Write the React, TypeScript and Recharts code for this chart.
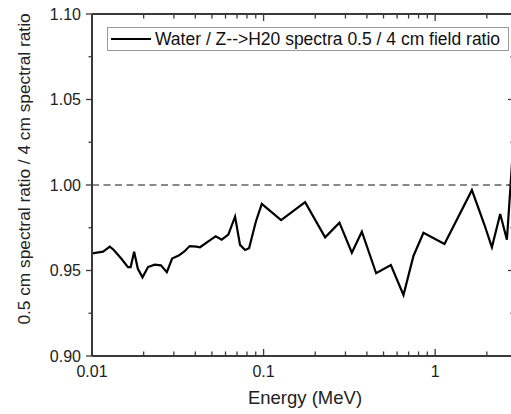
import { Line, LineChart, ReferenceLine, XAxis, YAxis } from "recharts";

// energy (MeV) and 0.5 cm / 4 cm spectral ratio
const energy = [
  0.01, 0.0116, 0.0127, 0.0134, 0.0148, 0.0162, 0.0168, 0.0176, 0.0185, 0.0197,
  0.0212, 0.0232, 0.0252, 0.0273, 0.0293, 0.032, 0.0344, 0.0371, 0.0406, 0.0426,
  0.0488, 0.0526, 0.057, 0.0623, 0.0682, 0.0729, 0.078, 0.0823, 0.0901, 0.0976,
  0.1265, 0.1746, 0.2284, 0.2767, 0.3269, 0.3738, 0.4529, 0.5517, 0.6535, 0.7472,
  0.8545, 1.133, 1.637, 1.939, 2.141, 2.393, 2.619, 2.88,
];
const ratio = [
  0.96, 0.961, 0.964, 0.962, 0.957, 0.952, 0.952, 0.961, 0.951, 0.946,
  0.952, 0.9534, 0.953, 0.949, 0.957, 0.9587, 0.961, 0.9643, 0.964, 0.9636,
  0.9678, 0.97, 0.968, 0.971, 0.9815, 0.965, 0.962, 0.963, 0.9785, 0.989,
  0.9795, 0.99, 0.9694, 0.978, 0.9604, 0.9727, 0.9484, 0.9532, 0.9357, 0.9585,
  0.9721, 0.9655, 0.997, 0.9766, 0.9636, 0.983, 0.968, 1.03,
];

const xTicks = [
  0.01, 0.02, 0.03, 0.04, 0.05, 0.06, 0.07, 0.08, 0.09,
  0.1, 0.2, 0.3, 0.4, 0.5, 0.6, 0.7, 0.8, 0.9, 1, 2,
];
const xMajor = [0.01, 0.1, 1];
const xLabels = ["0.01", "0.1", "1"];
const yTicks = [0.9, 0.925, 0.95, 0.975, 1.0, 1.025, 1.05, 1.075, 1.1];
const yMajor = [0.9, 0.95, 1.0, 1.05, 1.1];
const yLabels = ["0.90", "0.95", "1.00", "1.05", "1.10"];

const data = energy.map((e, i) => ({ e, r: ratio[i] }));

const AXIS = "#3a3a3a";
const FONT = "'Liberation Sans', Arial, sans-serif";

const majorIndex = (list: number[], v: number) => list.findIndex((m) => Math.abs(m - v) < 1e-9);

function BottomTick(props: any) {
  const { x, y, payload } = props;
  const idx = majorIndex(xMajor, payload.value);
  return (
    <g>
      <line x1={x} x2={x} y1={y} y2={y - (idx >= 0 ? 7 : 4.5)} stroke={AXIS} strokeWidth={1.3} />
      {idx >= 0 && (
        <text x={x} y={y + 21} textAnchor="middle" fontSize={16} fill="#222" fontFamily={FONT}>
          {xLabels[idx]}
        </text>
      )}
    </g>
  );
}

function TopTick(props: any) {
  const { x, y, payload } = props;
  const major = majorIndex(xMajor, payload.value) >= 0;
  return <line x1={x} x2={x} y1={y} y2={y + (major ? 7 : 4.5)} stroke={AXIS} strokeWidth={1.3} />;
}

function LeftTick(props: any) {
  const { x, y, payload } = props;
  const idx = majorIndex(yMajor, payload.value);
  return (
    <g>
      <line x1={x} x2={x - (idx >= 0 ? 6 : 3.5)} y1={y} y2={y} stroke={AXIS} strokeWidth={1.3} />
      {idx >= 0 && (
        <text x={x - 11} y={y + 5.5} textAnchor="end" fontSize={16} fill="#222" fontFamily={FONT}>
          {yLabels[idx]}
        </text>
      )}
    </g>
  );
}

function RightTick(props: any) {
  const { x, y, payload } = props;
  const major = majorIndex(yMajor, payload.value) >= 0;
  return <line x1={x} x2={x - (major ? 6 : 3.5)} y1={y} y2={y} stroke={AXIS} strokeWidth={1.3} />;
}

export default function App() {
  return (
    <div style={{ position: "fixed", left: 0, top: 0, width: 511, height: 414, overflow: "hidden", background: "#fff" }}>
      <LineChart width={530} height={414} data={data} margin={{ top: 4, right: 6, bottom: 0, left: 0 }}>
        <XAxis
          dataKey="e"
          type="number"
          scale="log"
          domain={[0.01, 2.88]}
          allowDataOverflow
          ticks={xTicks}
          interval={0}
          tickSize={0}
          tickMargin={0}
          tickLine={false}
          tick={<BottomTick />}
          height={58}
          axisLine={{ stroke: AXIS, strokeWidth: 2 }}
        />
        <XAxis
          xAxisId="top"
          orientation="top"
          dataKey="e"
          type="number"
          scale="log"
          domain={[0.01, 2.88]}
          allowDataOverflow
          ticks={xTicks}
          interval={0}
          tickSize={0}
          tickMargin={0}
          tickLine={false}
          tick={<TopTick />}
          height={10}
          axisLine={{ stroke: AXIS, strokeWidth: 2 }}
        />
        <YAxis
          type="number"
          domain={[0.9, 1.1]}
          allowDataOverflow
          ticks={yTicks}
          interval={0}
          tickSize={0}
          tickMargin={0}
          tickLine={false}
          tick={<LeftTick />}
          width={92}
          axisLine={{ stroke: AXIS, strokeWidth: 2 }}
        />
        <YAxis
          yAxisId="right"
          orientation="right"
          type="number"
          domain={[0.9, 1.1]}
          allowDataOverflow
          ticks={yTicks}
          interval={0}
          tickSize={0}
          tickMargin={0}
          tickLine={false}
          tick={<RightTick />}
          width={10}
          axisLine={{ stroke: AXIS, strokeWidth: 2 }}
        />
        {/* top frame line of the plot box */}
        <ReferenceLine y={1.1} stroke={AXIS} strokeWidth={2} />
        <ReferenceLine y={1} stroke="#8a8a8a" strokeWidth={2} strokeDasharray="7 4.5" />
        {/* transparent twin so the top / right frame axes get a scale */}
        <Line
          xAxisId="top"
          yAxisId="right"
          dataKey="r"
          type="linear"
          stroke="#000"
          strokeOpacity={0}
          dot={false}
          activeDot={false}
          isAnimationActive={false}
        />
        <Line
          dataKey="r"
          type="linear"
          stroke="#000"
          strokeWidth={2.2}
          dot={false}
          isAnimationActive={false}
        />
      </LineChart>
      <div
        style={{
          position: "absolute",
          left: 107,
          top: 27,
          height: 24,
          width: 402,
          boxSizing: "border-box",
          border: "1px solid #9a9a9a",
          background: "#fff",
          display: "flex",
          alignItems: "center",
          fontFamily: FONT,
          fontSize: 17.5,
          color: "#111",
          whiteSpace: "nowrap",
        }}
      >
        <span style={{ display: "inline-block", width: 40, height: 2.5, background: "#000", marginLeft: 3, marginRight: 4 }} />
        <span>Water / Z--&gt;H20 spectra 0.5 / 4 cm field ratio</span>
      </div>
      <div
        style={{
          position: "absolute",
          left: 305,
          top: 387,
          transform: "translateX(-50%)",
          fontFamily: FONT,
          fontSize: 18.5,
          color: "#222",
          whiteSpace: "nowrap",
        }}
      >
        Energy (MeV)
      </div>
      <div
        style={{
          position: "absolute",
          left: 24,
          top: 169,
          transform: "translate(-50%, -50%) rotate(-90deg)",
          fontFamily: FONT,
          fontSize: 17.3,
          color: "#222",
          whiteSpace: "nowrap",
        }}
      >
        0.5 cm spectral ratio / 4 cm spectral ratio
      </div>
    </div>
  );
}
